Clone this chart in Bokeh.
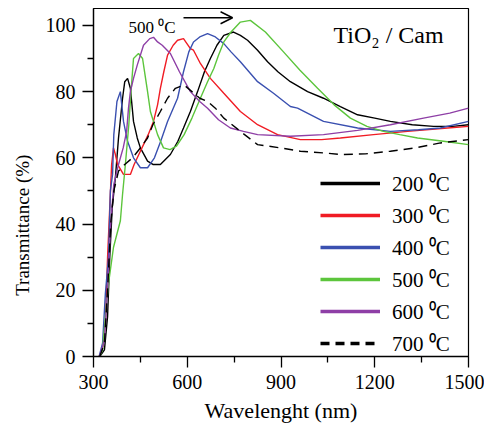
import math
from bokeh.plotting import figure
from bokeh.models import FixedTicker, Legend, LegendItem, Label, Arrow, OpenHead
from bokeh.embed import file_html
from bokeh.resources import INLINE

# ---- data ----
x200 = [320, 335, 345, 352, 360, 370, 380, 393, 400, 409, 418, 428, 440, 450, 473, 490, 514, 546, 570, 588,
        610, 633, 655, 674, 695, 717, 748, 770, 793, 825, 857, 890, 930, 985, 1036, 1090, 1145, 1200, 1250,
        1320, 1388, 1450, 1500]
y200 = [0, 2, 12, 30, 45, 54, 66, 78, 83, 84, 81, 71, 66, 63, 59, 58, 58, 61, 65, 69,
        74, 80, 86, 90, 94, 97, 98, 97, 95.5, 92.5, 89, 86, 83, 80, 78, 75.5, 73, 72, 71,
        70, 69.5, 69.5, 70]

x300 = [318, 330, 338, 345, 352, 358, 364, 370, 377, 396, 409, 418, 430, 445, 460, 475, 492, 505, 514, 525,
        537, 555, 569, 588, 610, 620, 642, 674, 717, 770, 825, 889, 962, 1030, 1090, 1196, 1305, 1433, 1500]
y300 = [0, 3, 10, 30, 45, 58, 63, 61, 58, 55, 55, 55, 58, 61, 64, 67, 71, 76, 81, 86,
        91, 94, 95.5, 96, 93, 92.5, 88.5, 84, 79.5, 74, 70, 67, 65.5, 65.5, 66, 67, 68, 69, 69.5]

x400 = [318, 329, 338, 348, 354, 361, 365, 375, 386, 396, 409, 428, 450, 473, 495, 515, 537, 569, 588, 605,
        620, 640, 665, 690, 717, 740, 770, 825, 876, 930, 953, 1036, 1145, 1250, 1340, 1410, 1500]
y400 = [0, 4, 19, 30, 50, 55, 67, 77, 80, 71, 65, 60, 57, 57, 60, 65, 71, 78, 86, 92,
        95, 96.5, 97.5, 96.5, 94.5, 92, 89, 83, 79.5, 75.5, 75, 71, 69, 68, 68.5, 69, 71]

x500 = [320, 329, 338, 348, 364, 386, 393, 402, 413, 420, 428, 444, 457, 465, 473, 482, 505, 524, 545, 565,
        590, 615, 642, 665, 685, 700, 717, 740, 770, 802, 850, 908, 960, 1017, 1070, 1122, 1175, 1228, 1280,
        1337, 1420, 1500]
y500 = [0, 2, 12, 22, 33, 41, 49, 58, 70, 80, 90, 91.5, 90, 85, 80, 74, 67, 63, 62.5, 63.5,
        67, 72, 78, 83, 87, 91, 95, 98, 101, 101.5, 98, 92, 86.5, 81, 76, 72, 69.5, 68, 67,
        66, 65, 64]

x600 = [320, 335, 345, 355, 365, 380, 395, 406, 412, 418, 428, 440, 460, 480, 492, 505, 520, 546, 575, 610,
        640, 665, 700, 738, 780, 825, 930, 1036, 1145, 1250, 1356, 1440, 1500]
y600 = [0, 5, 20, 40, 52, 58, 63, 68, 75, 80, 84, 88, 94, 96, 96.4, 95, 94, 91.5, 86, 80,
        77, 75, 71.5, 69, 68, 67, 66.5, 67, 68.3, 70, 72, 73.5, 75]

x700 = [320, 335, 345, 355, 365, 380, 400, 425, 450, 473, 490, 514, 537, 562, 590, 615, 640, 665, 690, 717,
        770, 825, 898, 962, 1036, 1090, 1170, 1250, 1330, 1410, 1500]
y700 = [0, 4, 20, 40, 50, 56, 58, 60, 63, 66, 70, 74, 78, 81, 82, 80, 78, 77, 75, 72,
        68, 64, 63, 62, 61.5, 61, 61.2, 62, 63, 64.5, 65.5]

labels = ["200 \u2070C", "300 \u2070C", "400 \u2070C", "500 \u2070C", "600 \u2070C", "700 \u2070C"]
colors = ["#000000", "#f01c24", "#3a50b0", "#5cc53c", "#8e3fa6", "#000000"]
dashes = ["solid", "solid", "solid", "solid", "solid", "9 6"]
xs = [x200, x300, x400, x500, x600, x700]
ys = [y200, y300, y400, y500, y600, y700]

x_ticks = [300, 600, 900, 1200, 1500]
x_minor = [450, 750, 1050, 1350]
y_ticks = [0, 20, 40, 60, 80, 100]
y_minor = [10, 30, 50, 70, 90]

FONT = "Liberation Serif"

p = figure(width=484, height=428, x_range=(300, 1500), y_range=(0, 105.1),
           output_backend="svg", toolbar_location=None,
           min_border_left=93, min_border_right=16, min_border_top=8, min_border_bottom=72)

p.xgrid.visible = False
p.ygrid.visible = False
p.outline_line_color = "black"
p.outline_line_width = 1.2
p.background_fill_color = "white"

for x, y, c, d in zip(xs, ys, colors, dashes):
    p.line(x, y, line_color=c, line_width=1.4, line_dash=d)

# legend proxies (thicker lines, nothing drawn in the plot)
items = []
for lab, c, d in zip(labels, colors, dashes):
    r = p.line([math.nan], [math.nan], line_color=c, line_width=3.5,
               line_dash=("9 6" if d != "solid" else "solid"))
    items.append(LegendItem(label=lab, renderers=[r]))
legend = Legend(items=items, location=(227, -1), glyph_width=60, glyph_height=28, label_height=28,
                spacing=4, padding=0, label_standoff=12, border_line_color=None,
                background_fill_alpha=0, label_text_font=FONT, label_text_font_size="21px",
                label_text_color="black")
p.add_layout(legend, "center")

for ax in (p.xaxis[0], p.yaxis[0]):
    ax.axis_line_width = 1.3
    ax.major_tick_line_width = 1.3
    ax.minor_tick_line_width = 1.3
    ax.major_tick_in = 0
    ax.minor_tick_in = 0
    ax.major_tick_out = 11
    ax.minor_tick_out = 6
    ax.major_label_text_font = FONT
    ax.major_label_text_font_size = "20px"
    ax.major_label_text_color = "black"
    ax.axis_label_text_font = FONT
    ax.axis_label_text_font_style = "normal"
    ax.axis_label_text_color = "black"

p.xaxis.ticker = FixedTicker(ticks=x_ticks, minor_ticks=x_minor)
p.yaxis.ticker = FixedTicker(ticks=y_ticks, minor_ticks=y_minor)
p.xaxis.axis_label = "Wavelenght (nm)"
p.xaxis.axis_label_text_font_size = "22px"
p.xaxis.major_label_standoff = 7
p.xaxis.axis_label_standoff = 6
p.yaxis.major_label_standoff = 7
# trailing no-break spaces shift the visible title a little below the frame centre
p.yaxis.axis_label = "Transmittance (%)" + "\u00a0" * 18
p.yaxis.axis_label_text_font_size = "19px"
p.yaxis.axis_label_standoff = 10

p.add_layout(Label(x=1068, y=97, text="TiO\u2082 / Cam", text_font=FONT, text_font_size="24px",
                   text_baseline="middle", text_color="black"))
p.add_layout(Label(x=412, y=99.5, text="500 \u2070C", text_font=FONT, text_font_size="17px",
                   text_baseline="middle", text_color="black"))
p.add_layout(Arrow(x_start=588, y_start=102.3, x_end=745, y_end=102.3, line_width=1.3, line_color="black",
                   end=OpenHead(size=12, line_width=1.5, line_color="black")))

open("out.html", "w").write(file_html(p, INLINE))
